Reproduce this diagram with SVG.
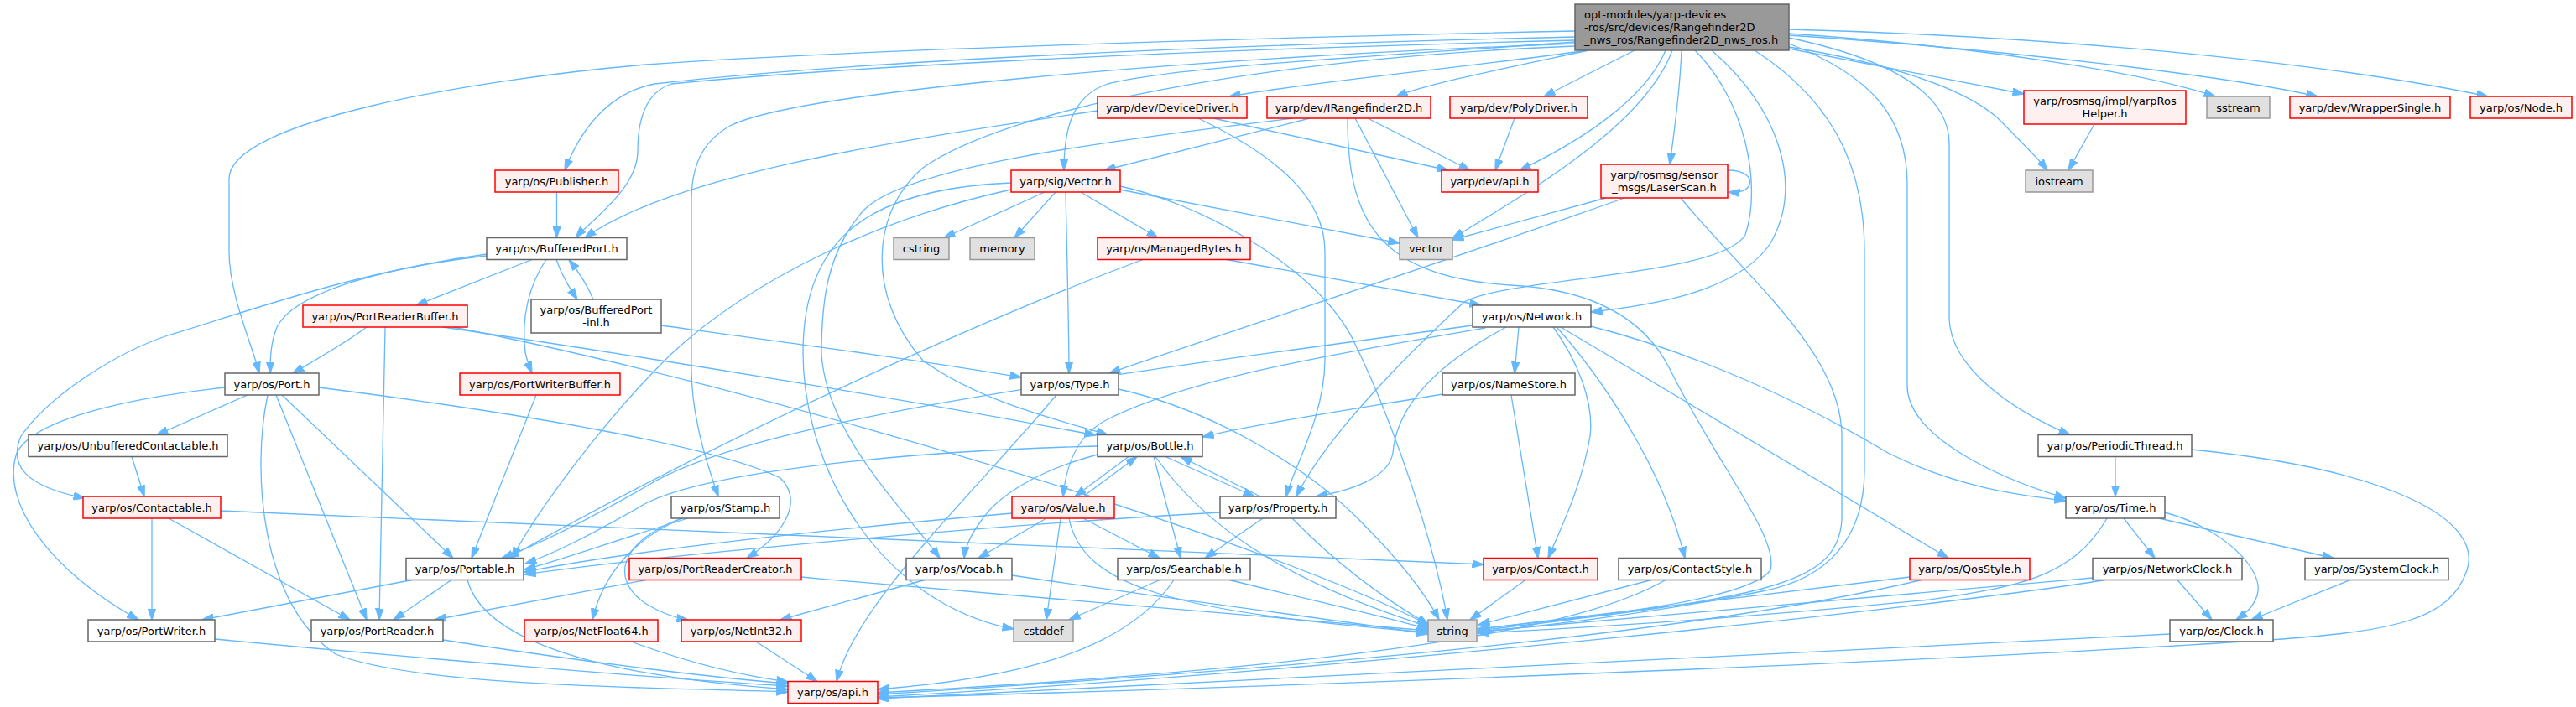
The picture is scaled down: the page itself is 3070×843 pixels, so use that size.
<svg xmlns="http://www.w3.org/2000/svg" width="3070" height="843" viewBox="0 0 3070 843">
<style>
.e{fill:none;stroke:#63b8ff;stroke-width:1.3;marker-end:url(#a)}
rect{stroke-width:1.5}
.w{fill:#ffffff;stroke:#666666}
.r{fill:#fff0f0;stroke:#ff0000}
.g{fill:#e0e0e0;stroke:#999999}
.root{fill:#999999;stroke:#666666}
text{font-family:"DejaVu Sans",sans-serif;font-size:13px;fill:#000;text-anchor:middle}
text.l{text-anchor:start}
</style>
<defs>
<marker id="a" markerWidth="14" markerHeight="10" refX="13.5" refY="5" orient="auto" markerUnits="userSpaceOnUse"><path d="M0,0.3 L14,5 L0,9.7 z" fill="#63b8ff" stroke="#63b8ff" stroke-width="1"/></marker>
</defs>
<rect width="3070" height="843" fill="#ffffff"/>
<g id="edges">
<path class="e" d="M1877,37 C1500,45 1000,60 770,77 C560,95 273,145 273,213 L273,300 C273,350 300,410 309,445"/>
<path class="e" d="M1877,44 C1400,55 1000,75 780,100 C720,112 690,160 673,203"/>
<path class="e" d="M1877,48 C1400,60 1000,80 800,100 C770,110 760,140 760,180 C760,225 705,262 686,283.5"/>
<path class="e" d="M1892,60 C1750,80 1560,98 1465,115"/>
<path class="e" d="M1893,60 C1800,80 1700,100 1664,115"/>
<path class="e" d="M1948,60 L1840,115"/>
<path class="e" d="M1985,60 C1960,120 1880,170 1811,203"/>
<path class="e" d="M1993,60 C1960,150 1820,230 1731,284"/>
<path class="e" d="M2004,60 C2002,110 1995,160 1990,196"/>
<path class="e" d="M1877,50 C1600,70 1400,80 1320,100 C1275,115 1268,160 1268,203"/>
<path class="e" d="M1877,55 C1500,70 1200,130 1100,200 C1040,250 1030,350 1100,430 C1170,480 1260,500 1320,518.5"/>
<path class="e" d="M1877,52 C1400,70 950,110 870,150 C835,170 824,200 824,240 L824,440 C824,500 845,560 856,592"/>
<path class="e" d="M2040,60 C2120,130 2150,220 2110,290 C2070,350 1960,365 1896,372"/>
<path class="e" d="M2020,60 C2080,120 2100,220 2080,280 C2050,330 1800,330 1745,360 C1680,420 1580,520 1545,592"/>
<path class="e" d="M2091,60 C2200,130 2222,220 2222,300 L2222,560 C2222,640 2180,690 2100,705 C1950,735 1820,748 1761,754"/>
<path class="e" d="M2132,52 C2230,90 2273,140 2273,220 L2273,460 C2273,520 2380,570 2462,594"/>
<path class="e" d="M2132,45 C2250,70 2322,110 2323,170 L2323,380 C2325,440 2400,490 2467,518.5"/>
<path class="e" d="M2132,58 C2250,80 2350,100 2412,112"/>
<path class="e" d="M2132,56 C2250,75 2340,105 2380,140 C2410,170 2430,190 2440,203"/>
<path class="e" d="M2132,40 C2350,55 2550,85 2640,115"/>
<path class="e" d="M2132,42 C2400,60 2650,90 2762,115"/>
<path class="e" d="M2132,35 C2500,45 2800,80 2965,115"/>
<path class="e" d="M1308,132 C1050,170 800,210 697,283.5"/>
<path class="e" d="M1446,141 L1726,203"/>
<path class="e" d="M1428,141 C1530,190 1579,240 1579,300 L1579,430 C1578,500 1540,560 1533,592"/>
<path class="e" d="M1561,141 L1316,203"/>
<path class="e" d="M1630,141 L1752,203"/>
<path class="e" d="M1615,141 L1690,283.5"/>
<path class="e" d="M1606,141 C1606,260 1640,330 1800,340 C1900,345 1960,380 1990,440 C2050,560 2120,640 2110,680 C2080,720 1850,740 1761,750"/>
<path class="e" d="M1541,141 C1300,170 1080,200 1030,250 C985,300 979,360 979,422 C985,520 1080,610 1120,665.5"/>
<path class="e" d="M1805,141 L1782,203"/>
<path class="e" d="M663.5,229 L663.5,283.5"/>
<path class="e" d="M1245,229 L1125,283.5"/>
<path class="e" d="M1258,229 L1209,283.5"/>
<path class="e" d="M1288,229 L1380,283.5"/>
<path class="e" d="M1334,226 L1668,290"/>
<path class="e" d="M1270,229 C1272,320 1274,400 1274,445"/>
<path class="e" d="M1335,222 C1420,240 1560,310 1610,400 C1660,500 1710,650 1725,739"/>
<path class="e" d="M1205,226 C1050,260 900,330 800,422 C720,500 640,610 610,665.5"/>
<path class="e" d="M1205,218 C1040,225 957,280 957,420 C957,560 1050,720 1208,750"/>
<path class="e" d="M1362,309.5 C1200,370 900,500 605,665.5"/>
<path class="e" d="M1462,309.5 L1765,364"/>
<path class="e" d="M1914,236 L1731,286"/>
<path class="e" d="M1936,236 C1700,320 1450,400 1322,445"/>
<path class="e" d="M2003,236 C2080,330 2195,420 2195,520 L2195,620 C2190,700 2100,712 1761,752"/>
<path class="e" d="M2059,203 C2080,203 2088,212 2085,220 C2082,228 2072,230 2060,229"/>
<path class="e" d="M2496,148 L2465,203"/>
<path class="e" d="M634,309.5 L496,364"/>
<path class="e" d="M663,309.5 C670,330 680,345 688,357"/>
<path class="e" d="M707,357 C700,340 688,322 678,309.5"/>
<path class="e" d="M651,309.5 C630,340 621,380 626,420 C628,430 632,440 634,445"/>
<path class="e" d="M580,305 C450,320 350,350 330,390 C322,410 322,430 322,445"/>
<path class="e" d="M580,303 C420,325 300,370 200,400 C140,420 60,470 25,520 C10,555 30,580 101,594"/>
<path class="e" d="M437,390 C410,410 383,425 349,445"/>
<path class="e" d="M459,390 L452,739"/>
<path class="e" d="M528,390 C800,430 1100,480 1306,519"/>
<path class="e" d="M540,390 C900,460 1500,640 1702,745"/>
<path class="e" d="M788,388 C950,410 1100,430 1217,450"/>
<path class="e" d="M295,471 L187,518.5"/>
<path class="e" d="M268,462 C150,475 40,500 20,540 C0,600 60,680 165,739"/>
<path class="e" d="M329,471 L437,739"/>
<path class="e" d="M336,471 L540,665.5"/>
<path class="e" d="M319,471 C300,560 310,720 400,780 C500,820 800,820 939,825"/>
<path class="e" d="M380,462 C600,490 850,530 930,570 C960,600 930,640 890,665.5"/>
<path class="e" d="M157,544.5 L172,592"/>
<path class="e" d="M181,618 L181,739"/>
<path class="e" d="M201,618 L417,739"/>
<path class="e" d="M263,609 C700,630 1400,655 1768,673"/>
<path class="e" d="M491,691.5 L241,739"/>
<path class="e" d="M538,691.5 L469,739"/>
<path class="e" d="M557,691.5 C575,760 700,805 939,822"/>
<path class="e" d="M256,762 C500,785 800,810 939,818"/>
<path class="e" d="M528,763 C700,790 850,808 939,815"/>
<path class="e" d="M639,471 L562,665.5"/>
<path class="e" d="M770,691.5 L518,739"/>
<path class="e" d="M955,688 C1250,715 1550,740 1702,752"/>
<path class="e" d="M752,765 C820,790 880,805 939,813"/>
<path class="e" d="M901,765 L974,812.5"/>
<path class="e" d="M820,618 C730,645 670,668 625,679"/>
<path class="e" d="M812,618 C740,645 725,690 770,720 C790,732 805,737 820,739"/>
<path class="e" d="M815,617 C760,640 720,680 706,739"/>
<path class="e" d="M1259,471 C1150,600 1020,720 997,812.5"/>
<path class="e" d="M1333,464 C1450,490 1560,560 1620,620 C1670,670 1700,710 1715,739"/>
<path class="e" d="M1345,544.5 L1281,592"/>
<path class="e" d="M1291,592 L1355,544.5"/>
<path class="e" d="M1389,544.5 L1495,592"/>
<path class="e" d="M1502,592 L1407,544.5"/>
<path class="e" d="M1375,544.5 L1407,665.5"/>
<path class="e" d="M1308,542 C1240,560 1190,590 1170,620 C1155,640 1150,655 1149,665.5"/>
<path class="e" d="M1308,532 C1100,537 850,560 770,600 C700,640 660,660 626,672"/>
<path class="e" d="M1377,544.5 C1430,620 1520,690 1705,748"/>
<path class="e" d="M1247,618 L1166,665.5"/>
<path class="e" d="M1291,618 L1382,665.5"/>
<path class="e" d="M1264,618 L1247,739"/>
<path class="e" d="M1274,618 C1290,700 1400,730 1702,754"/>
<path class="e" d="M1206,612 C1000,630 760,655 625,682"/>
<path class="e" d="M1505,618 L1436,665.5"/>
<path class="e" d="M1454,611 C1200,625 800,660 625,685"/>
<path class="e" d="M1540,618 C1600,680 1660,720 1703,745"/>
<path class="e" d="M1382,691.5 L1274,739"/>
<path class="e" d="M1399,691.5 C1340,780 1200,810 1046,822"/>
<path class="e" d="M1465,691.5 C1560,715 1650,735 1702,750"/>
<path class="e" d="M1102,691.5 L930,739"/>
<path class="e" d="M1206,686 C1400,715 1600,740 1702,756"/>
<path class="e" d="M1810,390 L1805,445"/>
<path class="e" d="M1851,390 C1880,430 1900,480 1895,520 C1885,580 1860,630 1845,665.5"/>
<path class="e" d="M1855,390 C1900,440 1980,550 2008,665.5"/>
<path class="e" d="M1860,390 L2322,665.5"/>
<path class="e" d="M1892,388 C2020,420 2150,480 2250,540 C2330,580 2400,590 2462,597"/>
<path class="e" d="M1795,390 C1720,430 1665,480 1660,540 C1655,570 1610,585 1568,592"/>
<path class="e" d="M1755,388 C1300,450 900,500 770,580 C700,620 640,650 598,665.5"/>
<path class="e" d="M1770,391 C1600,420 1420,450 1320,500 C1280,520 1270,560 1267,592"/>
<path class="e" d="M1719,470 C1600,490 1500,505 1433,521"/>
<path class="e" d="M1801,471 L1833,665.5"/>
<path class="e" d="M1818,691.5 L1752,739"/>
<path class="e" d="M1968,691.5 L1762,745"/>
<path class="e" d="M1985,691.5 C1900,740 1700,790 1046,826"/>
<path class="e" d="M2276,688 L1762,750"/>
<path class="e" d="M2290,691.5 C2000,760 1500,800 1046,828"/>
<path class="e" d="M2521,544.5 L2521,592"/>
<path class="e" d="M2612,536 C2850,560 2960,620 2940,680 C2920,740 2850,752 2720,762 C2300,790 1500,820 1046,832"/>
<path class="e" d="M2531,618 L2568,665.5"/>
<path class="e" d="M2573,618 L2781,665.5"/>
<path class="e" d="M2580,611 C2650,630 2700,680 2690,710 C2685,725 2675,732 2665,739"/>
<path class="e" d="M2511,618 C2470,690 2400,700 2300,715 C2100,735 1900,748 1761,755"/>
<path class="e" d="M2595,691.5 L2636,739"/>
<path class="e" d="M2494,689 C2200,715 1900,742 1761,753"/>
<path class="e" d="M2509,691.5 C2300,725 1600,800 1046,831"/>
<path class="e" d="M2801,691.5 L2683,739"/>
<path class="e" d="M2586,756 C2200,775 1500,810 1046,833"/>
</g>
<g id="n_root"><rect class="root" x="1877" y="5" width="255" height="55"/><text class="l" x="1888" y="22">opt-modules/yarp-devices</text><text class="l" x="1888" y="37">-ros/src/devices/Rangefinder2D</text><text class="l" x="1888" y="52">_nws_ros/Rangefinder2D_nws_ros.h</text></g>
<g id="n_DeviceDriver"><rect class="r" x="1308" y="115" width="178" height="26"/><text x="1397" y="132.5">yarp/dev/DeviceDriver.h</text></g>
<g id="n_IRangefinder2D"><rect class="r" x="1510" y="115" width="195" height="26"/><text x="1607.5" y="132.5">yarp/dev/IRangefinder2D.h</text></g>
<g id="n_PolyDriver"><rect class="r" x="1728" y="115" width="164" height="26"/><text x="1810" y="132.5">yarp/dev/PolyDriver.h</text></g>
<g id="n_yarpRosHelper"><rect class="r" x="2412" y="108" width="193" height="40"/><text x="2508.5" y="125">yarp/rosmsg/impl/yarpRos</text><text x="2508.5" y="140">Helper.h</text></g>
<g id="n_sstream"><rect class="g" x="2630" y="115" width="75" height="26"/><text x="2667.5" y="132.5">sstream</text></g>
<g id="n_WrapperSingle"><rect class="r" x="2729" y="115" width="191" height="26"/><text x="2824.5" y="132.5">yarp/dev/WrapperSingle.h</text></g>
<g id="n_Node"><rect class="r" x="2944" y="115" width="121" height="26"/><text x="3004.5" y="132.5">yarp/os/Node.h</text></g>
<g id="n_Publisher"><rect class="r" x="590" y="203" width="147" height="26"/><text x="663.5" y="220.5">yarp/os/Publisher.h</text></g>
<g id="n_Vector"><rect class="r" x="1205" y="203" width="130" height="26"/><text x="1270" y="220.5">yarp/sig/Vector.h</text></g>
<g id="n_devapi"><rect class="r" x="1718" y="203" width="115" height="26"/><text x="1775.5" y="220.5">yarp/dev/api.h</text></g>
<g id="n_LaserScan"><rect class="r" x="1908" y="196" width="151" height="40"/><text x="1983.5" y="213">yarp/rosmsg/sensor</text><text x="1983.5" y="228">_msgs/LaserScan.h</text></g>
<g id="n_iostream"><rect class="g" x="2414" y="203" width="80" height="26"/><text x="2454" y="220.5">iostream</text></g>
<g id="n_BufferedPort"><rect class="w" x="580" y="283.5" width="167" height="26"/><text x="663.5" y="301">yarp/os/BufferedPort.h</text></g>
<g id="n_cstring"><rect class="g" x="1065" y="283.5" width="66" height="26"/><text x="1098" y="301">cstring</text></g>
<g id="n_memory"><rect class="g" x="1156" y="283.5" width="77" height="26"/><text x="1194.5" y="301">memory</text></g>
<g id="n_ManagedBytes"><rect class="r" x="1308" y="283.5" width="182" height="26"/><text x="1399" y="301">yarp/os/ManagedBytes.h</text></g>
<g id="n_vector"><rect class="g" x="1668" y="283.5" width="63" height="26"/><text x="1699.5" y="301">vector</text></g>
<g id="n_PortReaderBuffer"><rect class="r" x="361" y="364" width="196" height="26"/><text x="459" y="381.5">yarp/os/PortReaderBuffer.h</text></g>
<g id="n_BufferedPortInl"><rect class="w" x="633" y="357" width="155" height="40"/><text x="710.5" y="374">yarp/os/BufferedPort</text><text x="710.5" y="389">-inl.h</text></g>
<g id="n_Network"><rect class="w" x="1755" y="364" width="141" height="26"/><text x="1825.5" y="381.5">yarp/os/Network.h</text></g>
<g id="n_Port"><rect class="w" x="268" y="445" width="112" height="26"/><text x="324" y="462.5">yarp/os/Port.h</text></g>
<g id="n_PortWriterBuffer"><rect class="r" x="548" y="445" width="191" height="26"/><text x="643.5" y="462.5">yarp/os/PortWriterBuffer.h</text></g>
<g id="n_Type"><rect class="w" x="1217" y="445" width="116" height="26"/><text x="1275" y="462.5">yarp/os/Type.h</text></g>
<g id="n_NameStore"><rect class="w" x="1719" y="445" width="158" height="26"/><text x="1798" y="462.5">yarp/os/NameStore.h</text></g>
<g id="n_UnbufferedContactable"><rect class="w" x="34" y="518.5" width="237" height="26"/><text x="152.5" y="536">yarp/os/UnbufferedContactable.h</text></g>
<g id="n_Bottle"><rect class="w" x="1308" y="518.5" width="125" height="26"/><text x="1370.5" y="536">yarp/os/Bottle.h</text></g>
<g id="n_PeriodicThread"><rect class="w" x="2429" y="518.5" width="183" height="26"/><text x="2520.5" y="536">yarp/os/PeriodicThread.h</text></g>
<g id="n_Contactable"><rect class="r" x="99" y="592" width="164" height="26"/><text x="181" y="609.5">yarp/os/Contactable.h</text></g>
<g id="n_Stamp"><rect class="w" x="800" y="592" width="129" height="26"/><text x="864.5" y="609.5">yarp/os/Stamp.h</text></g>
<g id="n_Value"><rect class="r" x="1206" y="592" width="122" height="26"/><text x="1267" y="609.5">yarp/os/Value.h</text></g>
<g id="n_Property"><rect class="w" x="1454" y="592" width="138" height="26"/><text x="1523" y="609.5">yarp/os/Property.h</text></g>
<g id="n_Time"><rect class="w" x="2462" y="592" width="118" height="26"/><text x="2521" y="609.5">yarp/os/Time.h</text></g>
<g id="n_Portable"><rect class="w" x="484" y="665.5" width="140" height="26"/><text x="554" y="683">yarp/os/Portable.h</text></g>
<g id="n_PortReaderCreator"><rect class="r" x="750" y="665.5" width="205" height="26"/><text x="852.5" y="683">yarp/os/PortReaderCreator.h</text></g>
<g id="n_Vocab"><rect class="w" x="1080" y="665.5" width="126" height="26"/><text x="1143" y="683">yarp/os/Vocab.h</text></g>
<g id="n_Searchable"><rect class="w" x="1332" y="665.5" width="158" height="26"/><text x="1411" y="683">yarp/os/Searchable.h</text></g>
<g id="n_Contact"><rect class="r" x="1768" y="665.5" width="136" height="26"/><text x="1836" y="683">yarp/os/Contact.h</text></g>
<g id="n_ContactStyle"><rect class="w" x="1929" y="665.5" width="170" height="26"/><text x="2014" y="683">yarp/os/ContactStyle.h</text></g>
<g id="n_QosStyle"><rect class="r" x="2276" y="665.5" width="143" height="26"/><text x="2347.5" y="683">yarp/os/QosStyle.h</text></g>
<g id="n_NetworkClock"><rect class="w" x="2494" y="665.5" width="178" height="26"/><text x="2583" y="683">yarp/os/NetworkClock.h</text></g>
<g id="n_SystemClock"><rect class="w" x="2747" y="665.5" width="171" height="26"/><text x="2832.5" y="683">yarp/os/SystemClock.h</text></g>
<g id="n_PortWriter"><rect class="w" x="105" y="739" width="151" height="26"/><text x="180.5" y="756.5">yarp/os/PortWriter.h</text></g>
<g id="n_PortReader"><rect class="w" x="371" y="739" width="157" height="26"/><text x="449.5" y="756.5">yarp/os/PortReader.h</text></g>
<g id="n_NetFloat64"><rect class="r" x="625" y="739" width="159" height="26"/><text x="704.5" y="756.5">yarp/os/NetFloat64.h</text></g>
<g id="n_NetInt32"><rect class="r" x="812" y="739" width="143" height="26"/><text x="883.5" y="756.5">yarp/os/NetInt32.h</text></g>
<g id="n_cstddef"><rect class="g" x="1208" y="739" width="71" height="26"/><text x="1243.5" y="756.5">cstddef</text></g>
<g id="n_string"><rect class="g" x="1702" y="739" width="58" height="26"/><text x="1731" y="756.5">string</text></g>
<g id="n_Clock"><rect class="w" x="2586" y="739" width="123" height="26"/><text x="2647.5" y="756.5">yarp/os/Clock.h</text></g>
<g id="n_api"><rect class="r" x="939" y="812.5" width="107" height="26"/><text x="992.5" y="830">yarp/os/api.h</text></g>
</svg>
